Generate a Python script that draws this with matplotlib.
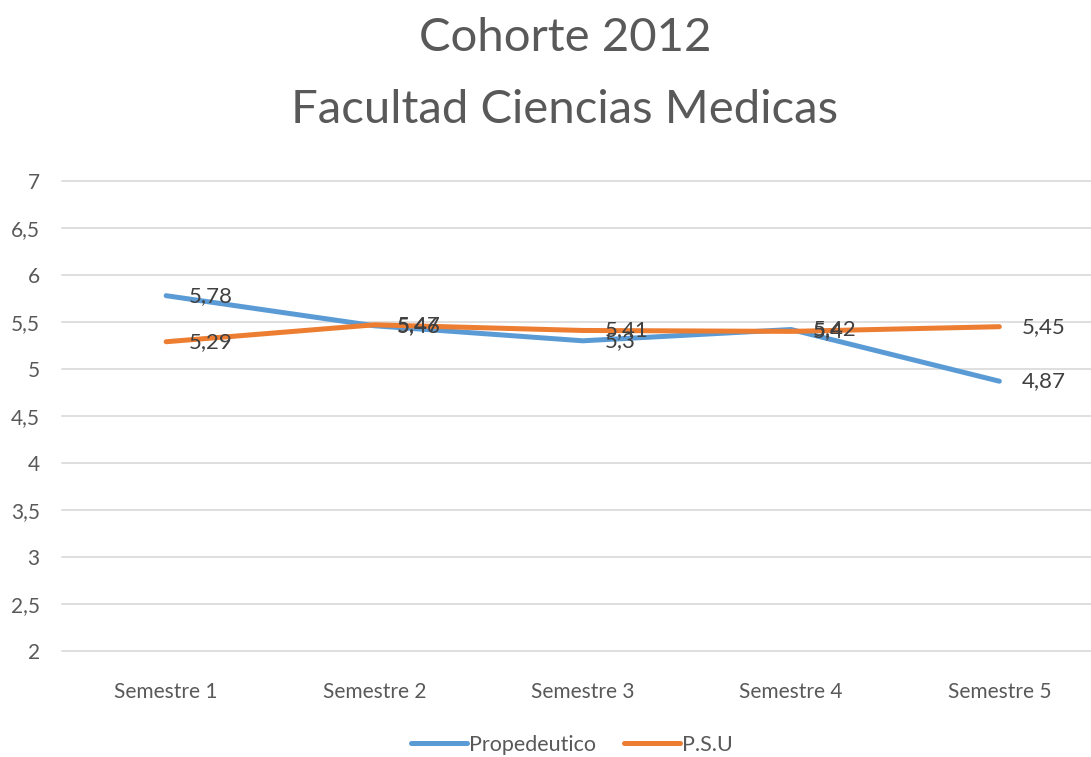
import matplotlib
matplotlib.use("Agg")
import matplotlib.pyplot as plt

plt.rcParams['font.family'] = ['Lato', 'DejaVu Sans']

semestres = ["Semestre 1", "Semestre 2", "Semestre 3", "Semestre 4", "Semestre 5"]
propedeutico = [5.78, 5.46, 5.3, 5.42, 4.87]
psu = [5.29, 5.47, 5.41, 5.4, 5.45]
yticks = [2, 2.5, 3, 3.5, 4, 4.5, 5, 5.5, 6, 6.5, 7]

blue = "#5B9BD5"
orange = "#ED7D31"
grey = "#595959"


def fmt(v):
    s = ("%.2f" % v).rstrip("0").rstrip(".")
    return s.replace(".", ",")


fig = plt.figure(figsize=(10.91, 7.57), dpi=100)
ax = fig.add_axes([62 / 1091, 1 - 651 / 757, 1041.5 / 1091, 470 / 757])

x = range(len(semestres))
ax.plot(x, propedeutico, color=blue, lw=3.6, label="Propedeutico", solid_capstyle="round")
ax.plot(x, psu, color=orange, lw=3.6, label="P.S.U", solid_capstyle="round")

# data labels, right of each point
for series in (propedeutico, psu):
    for i, v in enumerate(series):
        ax.annotate(fmt(v), (i, v), xytext=(16, 0), textcoords="offset points",
                    va="center", ha="left", fontsize=16, color="#404040")

ax.set_xlim(-0.5, 4.5)
ax.set_ylim(2, 7)
ax.set_yticks(yticks)
ax.set_yticklabels([fmt(t) for t in yticks], fontsize=15, color=grey)
ax.set_xticks(list(x))
ax.set_xticklabels(semestres, fontsize=15, color=grey)
ax.tick_params(axis="y", length=0, pad=16)
ax.tick_params(axis="x", length=0, pad=22)
ax.grid(axis="y", color="#D9D9D9", lw=1.2)
for gl in ax.get_ygridlines():
    gl.set_clip_on(False)
ax.set_axisbelow(True)
for s in ax.spines.values():
    s.set_visible(False)

fig.text(565 / 1091, 1 - 38 / 757, "Cohorte 2012", ha="center", va="center",
         fontsize=34, color=grey)
fig.text(565 / 1091, 1 - 110 / 757, "Facultad Ciencias Medicas", ha="center", va="center",
         fontsize=34, color=grey)

fig.legend(loc="center", bbox_to_anchor=(572 / 1091, 1 - 745 / 757), ncol=2,
           frameon=False, fontsize=15.5, labelcolor=grey, handlelength=2.6,
           handletextpad=0.1, columnspacing=1.3)

fig.savefig("out.png", dpi=100, facecolor="white")
